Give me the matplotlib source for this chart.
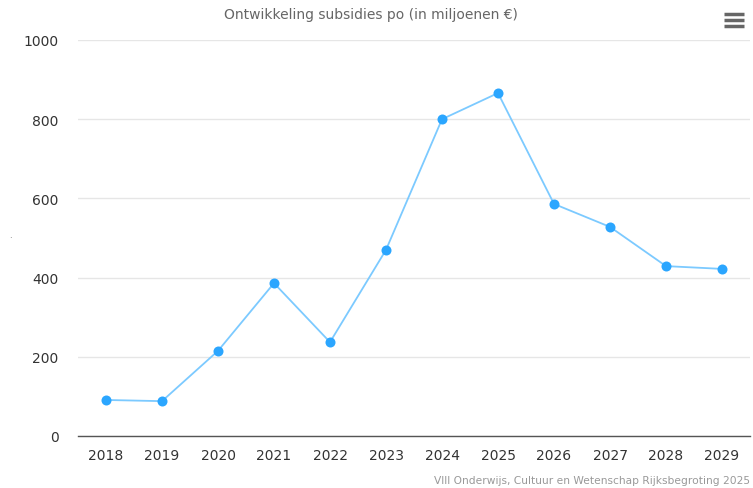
import matplotlib.pyplot as plt
from matplotlib.lines import Line2D

years = ["2018", "2019", "2020", "2021", "2022", "2023",
         "2024", "2025", "2026", "2027", "2028", "2029"]
subsidies = [91, 88, 215, 386, 237, 470, 800, 866, 586, 528, 429, 422]
y_ticks = [0, 200, 400, 600, 800, 1000]

W, H = 753, 489
fig = plt.figure(figsize=(W / 100, H / 100), dpi=100)
ax = fig.add_axes([78 / W, 1 - 437 / H, 672 / W, 396 / H])

x = list(range(len(years)))
ax.plot(x, subsidies, color="#7ccaff", linewidth=1.3, zorder=3)
ax.scatter(x, subsidies, s=52, color="#2ba6ff", zorder=4, linewidths=0)

ax.set_xlim(-0.5, len(years) - 0.5)
ax.set_ylim(0, 1000)
ax.set_yticks(y_ticks)
ax.set_xticks(x)
ax.set_xticklabels(years)
ax.tick_params(length=0, labelsize=10, labelcolor="#333333")
ax.tick_params(axis="y", pad=14)
ax.tick_params(axis="x", pad=9)

ax.grid(axis="y", color="#e6e6e6", linewidth=1)
ax.set_axisbelow(True)
for side in ["top", "right", "left"]:
    ax.spines[side].set_visible(False)
ax.spines["bottom"].set_color("#555555")
ax.spines["bottom"].set_linewidth(1)

fig.text(371 / W, 1 - 15 / H, "Ontwikkeling subsidies po (in miljoenen €)",
         ha="center", va="center", fontsize=10, color="#666666")
fig.text(750 / W, 1 - 481 / H, "VIII Onderwijs, Cultuur en Wetenschap Rijksbegroting 2025",
         ha="right", va="center", fontsize=7.7, color="#999999")
fig.text(10 / W, 1 - 236 / H, ".", ha="center", va="center", fontsize=6, color="#666666")

# menu icon
for yy in [15, 21, 27]:
    fig.add_artist(Line2D([724 / W, 744 / W], [1 - yy / H, 1 - yy / H],
                          color="#666666", linewidth=2.5, solid_capstyle="butt"))

fig.savefig("out.png", dpi=100, facecolor="white")
